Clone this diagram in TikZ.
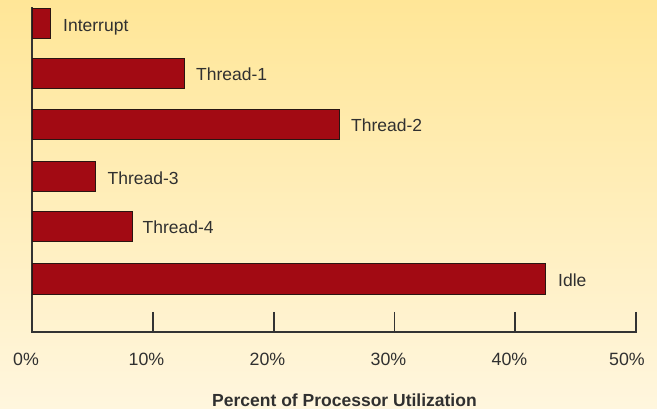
\documentclass[tikz,border=0pt]{standalone}
\usepackage{fontspec}
\setmainfont{Liberation Sans}
\begin{document}
\begin{tikzpicture}[x=1pt,y=-1pt,
  barbox/.style={draw=barline,line width=1pt,fill=barred},
  barlabel/.style={anchor=base west,inner sep=0pt,text=txt,font=\fontsize{17.5}{19}\selectfont},
  ticklabel/.style={anchor=base,inner sep=0pt,text=txt,font=\fontsize{17.8}{19}\selectfont},
  axisline/.style={draw=axis,line width=1.8pt}]
\definecolor{barred}{HTML}{A20A13}
\definecolor{barline}{HTML}{2A1512}
\definecolor{axis}{HTML}{333333}
\definecolor{txt}{HTML}{303030}
\definecolor{bgtop}{HTML}{FFE697}
\definecolor{bgbot}{HTML}{FFF6DE}
\useasboundingbox (0,0) rectangle (657,409);
\shade[top color=bgtop,bottom color=bgbot] (0,0) rectangle (657,409);
% axes
\coordinate (ytop) at (32,8);
\coordinate (origin) at (32,332);
\coordinate (xend) at (636,332);
\draw[axisline,line cap=rect] (ytop) -- (origin) -- (xend);
\foreach \i/\x in {1/152.8,2/273.6,3/394.4,4/515.2,5/636}{
  \coordinate (t\i) at (\x,312);
  \draw[axisline] (t\i) -- (\x,332);
}
% tick labels
\node[ticklabel] (l0) at (26,365) {0\%};
\node[ticklabel] (l1) at (146.5,365) {10\%};
\node[ticklabel] (l2) at (267.5,365) {20\%};
\node[ticklabel] (l3) at (388.5,365) {30\%};
\node[ticklabel] (l4) at (509.5,365) {40\%};
\node[ticklabel] (l5) at (627,365) {50\%};
% bars
\path[barbox] (32,9) rectangle (50,39);
\node[barlabel] (b0) at (63,31.5) {Interrupt};
\path[barbox] (32,58.5) rectangle (184.5,88.5);
\node[barlabel] (b1) at (196,81) {Thread-1};
\path[barbox] (32,109.5) rectangle (339.5,140);
\node[barlabel] (b2) at (351,132) {Thread-2};
\path[barbox] (32,162) rectangle (95,192);
\node[barlabel] (b3) at (107.5,184.5) {Thread-3};
\path[barbox] (32,211.5) rectangle (132,242);
\node[barlabel] (b4) at (142.5,234) {Thread-4};
\path[barbox] (32,264) rectangle (545,294.5);
\node[barlabel] (b5) at (558,286.5) {Idle};
% title
\node[anchor=base,inner sep=0pt,text=txt,font=\fontsize{17.5}{19}\selectfont\bfseries] (title) at (344.5,406) {Percent of Processor Utilization};
\end{tikzpicture}
\end{document}
